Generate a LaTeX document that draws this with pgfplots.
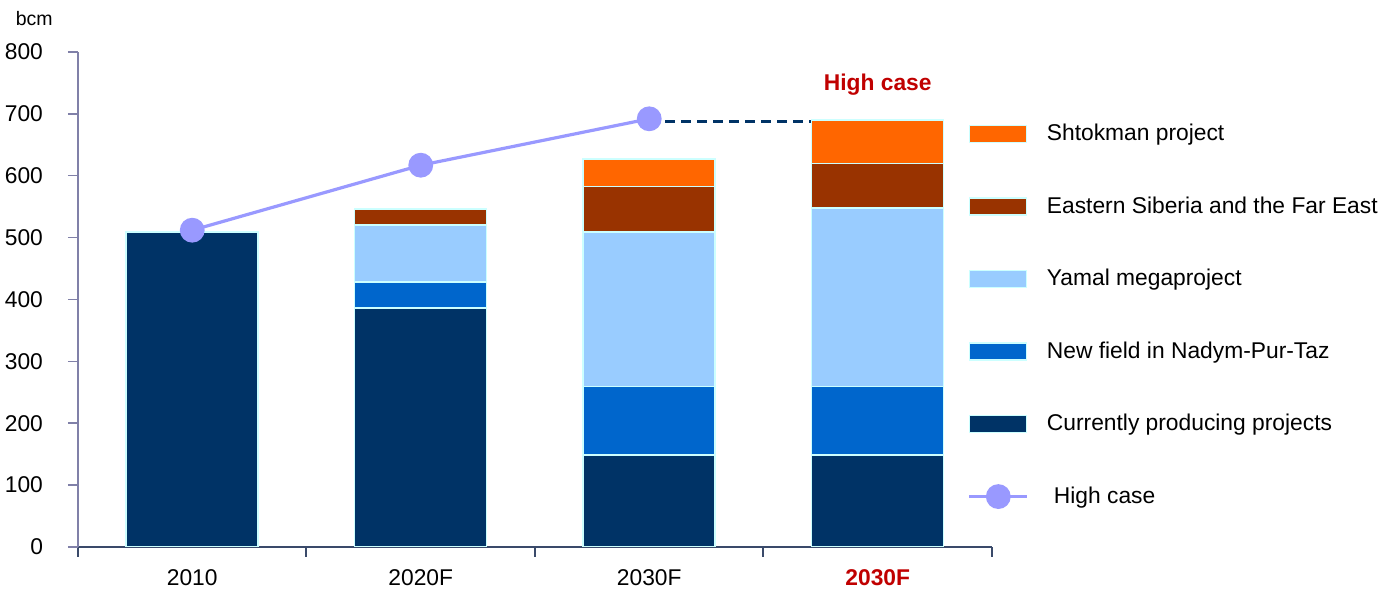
\documentclass[border=0pt]{standalone}
\usepackage{fontspec}
\setmainfont{Liberation Sans}
\usepackage{pgfplots}
\pgfplotsset{compat=1.18}
\definecolor{cNavy}{HTML}{003366}
\definecolor{cBlue}{HTML}{0066CC}
\definecolor{cLight}{HTML}{99CCFF}
\definecolor{cBrown}{HTML}{993300}
\definecolor{cOrange}{HTML}{FF6600}
\definecolor{cEdge}{HTML}{CCFFFF}
\definecolor{cLine}{HTML}{9999FF}
\definecolor{cRed}{HTML}{C00000}
\definecolor{cYax}{HTML}{8080A8}
\definecolor{cXax}{HTML}{3A4A6A}
\pgfplotsset{
  rectleg/.style={legend image code/.code={\draw[##1] (0pt,-4.25pt) rectangle (28.5pt,4.25pt);}},
  lineleg/.style={legend image code/.code={\draw[mark repeat=2, mark phase=2, ##1] plot coordinates {(0pt,0pt) (14.5pt,0pt) (29pt,0pt)};}},
  common/.style={
    at={(39pt,22.5pt)}, anchor=south west,
    scale only axis, width=457pt, height=247.5pt,
    xmin=-0.5, xmax=3.5, ymin=0, ymax=800,
    font=\fontsize{11.4}{13.5}\selectfont,
    /pgf/number format/assume math mode=true,
  }
}
\begin{document}
\begin{tikzpicture}
\useasboundingbox (0,0) rectangle (697pt,296pt);
\begin{axis}[common,
  ybar stacked, bar width=66pt,
  axis x line=bottom, axis y line=left, axis line style={-},
  y axis line style={color=cYax, line width=0.75pt},
  x axis line style={color=cXax, line width=1pt},
  ytick={0,100,...,800},
  ytick style={color=cYax, line width=0.75pt},
  xtick={-0.5,0.5,1.5,2.5,3.5}, xticklabels={},
  xtick style={color=cXax, line width=1pt},
  tick align=outside, major tick length=5pt,
  yticklabel style={xshift=-9pt},
  extra x ticks={0,1,2,3},
  extra x tick labels={2010,2020F,2030F,\textcolor{cRed}{\textbf{2030F}}},
  extra x tick style={major tick length=0pt, tick label style={yshift=-8pt}},
  ylabel={bcm},
  every axis y label/.style={at={(rel axis cs:0,1)}, anchor=south east, inner sep=0pt, xshift=-12.5pt, yshift=13pt, font=\fontsize{9.75}{11}\selectfont},
  every axis plot/.append style={draw=cEdge, line width=0.75pt},
]
\addplot[fill=cNavy] coordinates {(0,509) (1,386) (2,149) (3,149)};
\addplot[fill=cBlue] coordinates {(0,0) (1,42) (2,110) (3,110)};
\addplot[fill=cLight] coordinates {(0,0) (1,92) (2,250) (3,289)};
\addplot[fill=cBrown] coordinates {(0,0) (1,26) (2,74) (3,72)};
\addplot[fill=cOrange] coordinates {(0,0) (1,0) (2,44) (3,70)};
\end{axis}
\begin{axis}[common, hide axis, clip=false,
  legend style={draw=none, fill=none, at={(0.973,0.863)}, anchor=north west,
    row sep=22.5pt, column sep=7pt, inner sep=0pt, font=\fontsize{11.4}{13.5}\selectfont,
    cells={anchor=west}},
]
\addplot[cNavy, line width=1.5pt, dash pattern=on 5pt off 3pt, forget plot] coordinates {(2,687) (2.71,687)};
\addplot[cLine, line width=1.6pt, mark=*, mark size=5.4pt, mark options={fill=cLine, draw=cLine}, forget plot] coordinates {(0,512) (1,617) (2,692)};
\node[anchor=base, font=\fontsize{11.4}{13.5}\selectfont\bfseries, text=cRed] at (axis cs:3,737) {High case};
\addlegendimage{rectleg, fill=cOrange, draw=cEdge, line width=0.75pt}
\addlegendentry{Shtokman project}
\addlegendimage{rectleg, fill=cBrown, draw=cEdge, line width=0.75pt}
\addlegendentry{Eastern Siberia and the Far East}
\addlegendimage{rectleg, fill=cLight, draw=cEdge, line width=0.75pt}
\addlegendentry{Yamal megaproject}
\addlegendimage{rectleg, fill=cBlue, draw=cEdge, line width=0.75pt}
\addlegendentry{New field in Nadym-Pur-Taz}
\addlegendimage{rectleg, fill=cNavy, draw=cEdge, line width=0.75pt}
\addlegendentry{Currently producing projects}
\addlegendimage{lineleg, cLine, line width=1.6pt, mark=*, mark size=5.4pt, mark options={fill=cLine, draw=cLine}}
\addlegendentry{\hspace{3.5pt}High case}
\end{axis}
\end{tikzpicture}
\end{document}
